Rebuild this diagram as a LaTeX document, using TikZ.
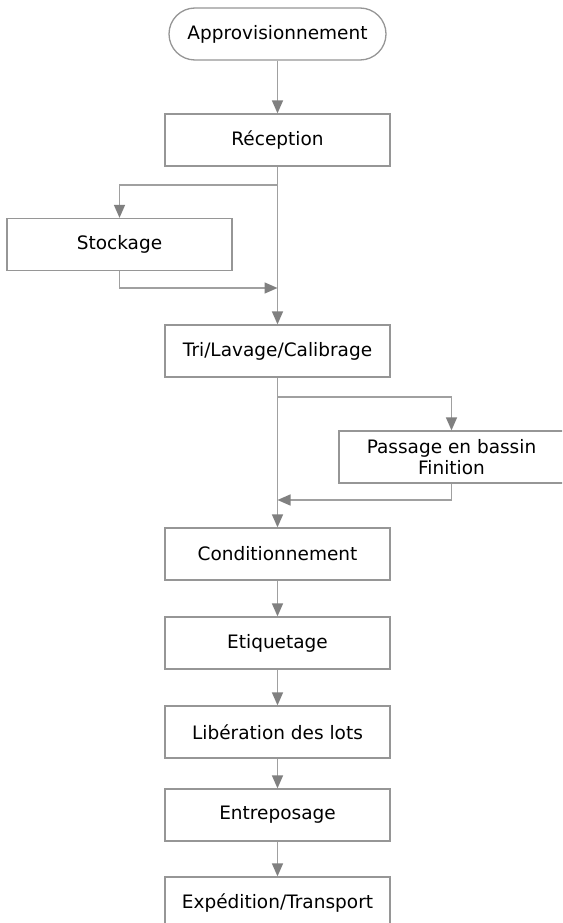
\documentclass[tikz,border=0pt]{standalone}
\usepackage{fontspec}
\setmainfont{DejaVu Sans}
\usetikzlibrary{arrows.meta}
\definecolor{linegray}{RGB}{160,160,160}
\definecolor{tipgray}{RGB}{128,128,128}
\definecolor{boxgray}{RGB}{150,150,150}
\tikzset{
  stepbox/.style={draw=boxgray, line width=1.3pt, minimum width=225pt, minimum height=52pt,
    inner sep=0pt, align=center, font=\fontsize{18.5}{21}\selectfont},
  startbox/.style={stepbox, minimum width=217pt, rounded corners=26pt},
  flow/.style={draw=linegray, line width=1.5pt, -{Triangle[width=11pt,length=13pt,color=tipgray]}},
}
\begin{document}
\begin{tikzpicture}[x=1pt,y=-1pt]
  \clip (0,0) rectangle (562,923);
  \fill[white] (0,0) rectangle (562,923);
  % main column
  \node[startbox] (appro) at (277.5,34) {Approvisionnement};
  \node[stepbox] (recep) at (277.5,140) {Réception};
  \node[stepbox] (stock) at (119.5,244.5) {Stockage};
  \node[stepbox] (tri) at (277.5,351) {Tri/Lavage/Calibrage};
  \node[stepbox] (bassin) at (451.5,457) {Passage en bassin\\Finition};
  \node[stepbox] (cond) at (277.5,554) {Conditionnement};
  \node[stepbox] (etiq) at (277.5,643) {Etiquetage};
  \node[stepbox] (lib) at (277.5,732) {Libération des lots};
  \node[stepbox] (entre) at (277.5,815) {Entreposage};
  \node[stepbox] (exped) at (277.5,903) {Expédition/Transport};
  % split and merge points
  \coordinate (split1) at (277.5,185);
  \coordinate (merge1) at (277.5,288);
  \coordinate (split2) at (277.5,397);
  \coordinate (merge2) at (277.5,500);
  % connectors
  \draw[flow] (appro) -- (recep);
  \draw[flow] (recep) -- (tri);
  \draw[flow] (split1) -| (stock);
  \draw[flow] (stock) |- (merge1);
  \draw[flow] (tri) -- (cond);
  \draw[flow] (split2) -| (bassin);
  \draw[flow] (bassin) |- (merge2);
  \draw[flow] (cond) -- (etiq);
  \draw[flow] (etiq) -- (lib);
  \draw[flow] (lib) -- (entre);
  \draw[flow] (entre) -- (exped);
\end{tikzpicture}
\end{document}
